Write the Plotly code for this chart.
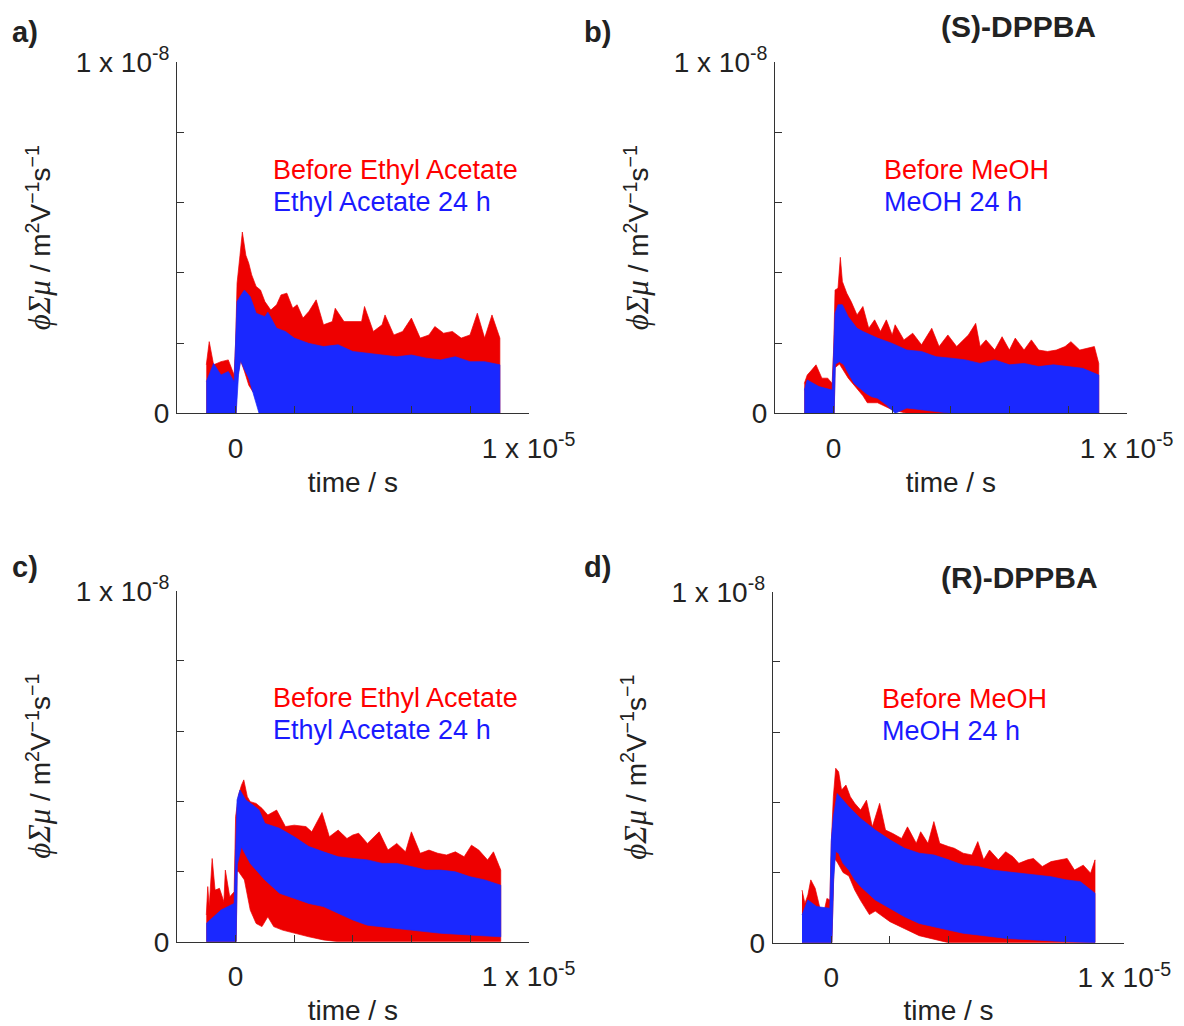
import plotly.graph_objects as go

# ---------------- data (time in microseconds, signal in 1e-9 m^2 V^-1 s^-1) ----------------
# Panel a: (S)-DPPBA, Ethyl Acetate
A_RED_UP_T = [-1.0, -0.9, -0.75, -0.5, -0.25, -0.05, 0.0, 0.05, 0.15, 0.23, 0.35, 0.45, 0.55, 0.7, 0.85,
              1.0, 1.2, 1.4, 1.55, 1.75, 1.95, 2.1, 2.3, 2.5, 2.75, 3.0, 3.3, 3.4, 3.7, 4.0, 4.3, 4.4, 4.7,
              5.0, 5.1, 5.4, 5.7, 6.0, 6.3, 6.6, 6.8, 7.1, 7.4, 7.7, 8.0, 8.25, 8.5, 8.75, 9.02]
A_RED_UP = [1.38, 2.04, 1.38, 1.47, 1.52, 1.09, 2.0, 3.7, 4.5, 5.16, 4.5, 4.27, 3.94, 3.61, 3.51,
            3.18, 2.94, 3.09, 3.37, 3.42, 2.99, 3.09, 2.71, 2.9, 3.23, 2.52, 2.61, 2.99, 2.61, 2.61, 2.61, 3.04, 2.33,
            2.52, 2.8, 2.23, 2.33, 2.71, 2.14, 2.23, 2.47, 2.28, 2.33, 2.14, 2.23, 2.85, 2.14, 2.8, 2.14]
A_RED_LO_T = [-1.0, 0.02, 0.04, 0.17, 0.3, 0.45, 0.6, 0.8, 1.0, 1.2, 9.02]
A_RED_LO = [0.0, 0.0, 0.9, 1.5, 1.2, 0.8, 0.6, 0.5, 0.3, 0.0, 0.0]
A_BLUE_UP_T = [-1.0, -0.75, -0.5, -0.25, -0.05, 0.0, 0.05, 0.15, 0.3, 0.5, 0.7, 1.0, 1.1, 1.4, 1.7, 2.0,
               2.5, 3.0, 3.5, 4.0, 4.5, 5.0, 5.5, 6.0, 6.5, 7.0, 7.5, 8.0, 8.5, 9.02]
A_BLUE_UP = [0.9, 1.42, 1.09, 1.19, 0.9, 1.95, 3.18, 3.32, 3.51, 3.32, 2.85, 2.75, 2.88, 2.42, 2.33, 2.14,
             1.99, 1.9, 1.95, 1.76, 1.71, 1.66, 1.61, 1.66, 1.57, 1.52, 1.61, 1.47, 1.47, 1.38]
A_BLUE_LO_T = [-1.0, 0.02, 0.03, 0.1, 0.17, 0.3, 0.45, 0.6, 0.8, 9.02]
A_BLUE_LO = [0.0, 0.0, 0.3, 1.1, 1.5, 1.25, 1.0, 0.6, 0.0, 0.0]

# Panel b: (S)-DPPBA, MeOH
B_RED_UP_T = [-1.0, -0.9, -0.75, -0.6, -0.4, -0.2, -0.05, 0.0, 0.05, 0.15, 0.23, 0.3, 0.45, 0.6, 0.8,
              1.0, 1.2, 1.4, 1.6, 1.8, 2.0, 2.1, 2.4, 2.7, 3.0, 3.35, 3.6, 3.9, 4.2, 4.6, 4.85, 5.0, 5.2,
              5.5, 5.75, 6.0, 6.2, 6.5, 6.75, 7.0, 7.3, 7.6, 7.9, 8.1, 8.4, 8.7, 8.9, 9.05]
B_RED_UP = [0.85, 1.09, 1.23, 1.38, 1.0, 1.0, 0.85, 1.8, 3.51, 3.56, 4.44, 3.75, 3.42, 3.18, 2.8,
            3.04, 2.42, 2.66, 2.33, 2.66, 2.23, 2.52, 2.09, 2.28, 1.95, 2.42, 1.9, 2.23, 1.9, 2.23, 2.56, 1.9, 2.09,
            1.8, 2.18, 1.8, 2.14, 1.8, 2.09, 1.8, 1.76, 1.8, 1.9, 2.04, 1.8, 1.85, 1.9, 1.42]
B_RED_LO_T = [-1.0, 0.02, 0.05, 0.2, 0.5, 1.0, 1.15, 1.5, 2.0, 2.5, 9.05]
B_RED_LO = [0.0, 0.0, 1.3, 1.4, 1.0, 0.5, 0.3, 0.3, 0.1, 0.0, 0.0]
B_BLUE_UP_T = [-1.0, -0.9, -0.5, -0.05, 0.0, 0.05, 0.15, 0.3, 0.5, 0.8, 1.0, 1.5, 2.0, 2.5, 3.0, 3.5,
               4.0, 4.5, 5.0, 5.5, 6.0, 6.5, 7.0, 7.5, 8.0, 8.5, 9.05]
B_BLUE_UP = [0.66, 0.95, 0.76, 0.66, 1.71, 2.85, 3.09, 3.09, 2.75, 2.42, 2.33, 2.14, 1.99, 1.8, 1.76, 1.61,
             1.57, 1.52, 1.42, 1.52, 1.38, 1.42, 1.33, 1.38, 1.33, 1.28, 1.09]
B_BLUE_LO_T = [-1.0, 0.02, 0.06, 0.2, 0.35, 0.5, 0.7, 0.9, 1.1, 1.3, 1.5, 1.8, 2.1, 2.5, 3.0, 4.0, 9.05]
B_BLUE_LO = [0.0, 0.0, 1.4, 1.47, 1.38, 1.14, 0.85, 0.71, 0.57, 0.47, 0.43, 0.24, 0.0, 0.15, 0.1, 0.0, 0.0]

# Panel c: (R)-DPPBA, Ethyl Acetate
C_RED_UP_T = [-1.0, -0.95, -0.9, -0.8, -0.7, -0.55, -0.4, -0.35, -0.2, -0.05, 0.0, 0.1, 0.2, 0.28, 0.4,
              0.5, 0.7, 0.9, 1.1, 1.4, 1.7, 2.0, 2.4, 2.6, 2.95, 3.2, 3.5, 3.8, 4.0, 4.2, 4.5, 4.9, 5.2,
              5.5, 5.8, 6.0, 6.3, 6.6, 6.9, 7.2, 7.5, 7.8, 8.05, 8.3, 8.6, 8.8, 9.05]
C_RED_UP = [0.76, 1.57, 1.0, 2.37, 1.47, 1.52, 1.14, 2.04, 1.28, 1.42, 3.56, 4.18, 4.46, 4.61, 4.13,
            3.99, 3.94, 3.8, 3.61, 3.75, 3.28, 3.32, 3.28, 3.13, 3.68, 2.99, 3.18, 2.94, 3.04, 3.09, 2.8, 3.13, 2.61,
            2.8, 2.56, 3.13, 2.52, 2.61, 2.52, 2.47, 2.56, 2.42, 2.75, 2.61, 2.33, 2.56, 2.04]
C_RED_LO_T = [-1.0, 0.02, 0.05, 0.1, 0.3, 0.5, 0.7, 0.9, 1.1, 1.3, 1.6, 2.0, 2.5, 3.0, 3.5, 9.05]
C_RED_LO = [0.0, 0.0, 2.0, 2.0, 1.76, 0.9, 0.52, 0.43, 0.71, 0.43, 0.33, 0.24, 0.14, 0.05, 0.0, 0.0]
C_BLUE_UP_T = [-1.0, -0.5, -0.05, 0.0, 0.05, 0.15, 0.35, 0.6, 0.8, 1.0, 1.5, 2.0, 2.5, 3.0, 3.5, 4.0,
               4.5, 5.0, 5.5, 6.0, 6.5, 7.0, 7.5, 8.0, 8.5, 9.05]
C_BLUE_UP = [0.52, 0.9, 1.09, 2.9, 4.04, 4.32, 4.04, 3.89, 3.75, 3.37, 3.23, 2.99, 2.71, 2.56, 2.42, 2.37,
             2.33, 2.23, 2.23, 2.14, 2.04, 2.04, 1.99, 1.85, 1.76, 1.61]
C_BLUE_LO_T = [-1.0, 0.02, 0.06, 0.2, 0.5, 1.0, 1.5, 2.0, 2.5, 3.0, 3.5, 4.0, 4.5, 5.0, 6.0, 7.0, 8.0, 9.05]
C_BLUE_LO = [0.0, 0.0, 2.2, 2.7, 2.23, 1.76, 1.38, 1.23, 1.09, 1.0, 0.81, 0.62, 0.47, 0.43, 0.33, 0.24, 0.19, 0.14]

# Panel d: (R)-DPPBA, MeOH
D_RED_UP_T = [-1.0, -0.9, -0.8, -0.7, -0.55, -0.4, -0.25, -0.15, -0.05, 0.0, 0.07, 0.15, 0.25, 0.35, 0.5,
              0.65, 0.8, 1.0, 1.2, 1.4, 1.65, 1.85, 2.1, 2.4, 2.6, 2.9, 3.05, 3.3, 3.5, 3.7, 4.0, 4.2, 4.5,
              4.8, 5.0, 5.2, 5.4, 5.7, 5.95, 6.2, 6.4, 6.7, 6.9, 7.2, 7.5, 7.8, 8.05, 8.3, 8.6, 8.85, 9.0]
D_RED_UP = [1.5, 1.12, 1.36, 1.79, 1.55, 1.03, 0.88, 1.26, 1.22, 2.83, 4.16, 4.97, 4.87, 4.35, 4.49,
            4.16, 3.97, 3.78, 4.06, 3.3, 3.97, 3.21, 3.11, 2.97, 3.3, 2.83, 3.16, 2.83, 3.45, 2.83, 2.74, 2.69, 2.55,
            2.5, 2.88, 2.36, 2.64, 2.36, 2.59, 2.45, 2.26, 2.36, 2.4, 2.17, 2.31, 2.36, 2.4, 2.07, 2.21, 1.98, 2.36]
D_RED_LO_T = [-1.0, 0.02, 0.1, 0.2, 0.4, 0.6, 0.8, 1.0, 1.3, 1.5, 2.0, 2.5, 3.0, 3.5, 4.0, 9.0]
D_RED_LO = [0.0, 0.0, 2.4, 2.3, 2.0, 1.9, 1.5, 1.2, 0.8, 0.9, 0.6, 0.4, 0.2, 0.1, 0.0, 0.0]
D_BLUE_UP_T = [-1.0, -0.8, -0.5, -0.05, 0.0, 0.07, 0.2, 0.35, 0.6, 1.0, 1.5, 2.0, 2.5, 3.0, 3.5, 4.0,
               4.5, 5.0, 5.5, 6.0, 6.5, 7.0, 7.5, 8.0, 8.5, 9.0]
D_BLUE_UP = [0.79, 1.22, 1.03, 0.98, 2.93, 3.59, 4.25, 4.11, 3.87, 3.54, 3.21, 2.93, 2.69, 2.55, 2.5, 2.36,
             2.21, 2.17, 2.07, 2.02, 1.98, 1.93, 1.88, 1.79, 1.74, 1.41]
D_BLUE_LO_T = [-1.0, 0.02, 0.08, 0.15, 0.25, 0.4, 0.6, 0.8, 1.0, 1.5, 2.0, 2.5, 3.0, 3.5, 4.0, 4.5, 5.0,
               6.0, 7.0, 8.0, 9.0]
D_BLUE_LO = [0.0, 0.0, 1.8, 2.6, 2.55, 2.26, 2.07, 1.79, 1.6, 1.22, 0.98, 0.74, 0.55, 0.46, 0.36, 0.27, 0.22,
             0.12, 0.08, 0.03, 0.0]

PANELS = [
    dict(name="a", red=(A_RED_UP_T, A_RED_UP, A_RED_LO_T, A_RED_LO),
         blue=(A_BLUE_UP_T, A_BLUE_UP, A_BLUE_LO_T, A_BLUE_LO),
         labels=("Before Ethyl Acetate", "Ethyl Acetate 24 h")),
    dict(name="b", red=(B_RED_UP_T, B_RED_UP, B_RED_LO_T, B_RED_LO),
         blue=(B_BLUE_UP_T, B_BLUE_UP, B_BLUE_LO_T, B_BLUE_LO),
         labels=("Before MeOH", "MeOH 24 h")),
    dict(name="c", red=(C_RED_UP_T, C_RED_UP, C_RED_LO_T, C_RED_LO),
         blue=(C_BLUE_UP_T, C_BLUE_UP, C_BLUE_LO_T, C_BLUE_LO),
         labels=("Before Ethyl Acetate", "Ethyl Acetate 24 h")),
    dict(name="d", red=(D_RED_UP_T, D_RED_UP, D_RED_LO_T, D_RED_LO),
         blue=(D_BLUE_UP_T, D_BLUE_UP, D_BLUE_LO_T, D_BLUE_LO),
         labels=("Before MeOH", "MeOH 24 h")),
]

X_TICKS = [0, 1e-5]
X_TICKTEXT = ["0", "1 x 10<sup>-5</sup>"]
X_MINOR = [2e-6, 4e-6, 6e-6, 8e-6]
Y_TICKS = [0, 1e-8]
Y_TICKTEXT = ["0", "1 x 10<sup>-8</sup>"]
Y_MINOR = [2e-9, 4e-9, 6e-9, 8e-9]

RED = "#ee0000"
BLUE = "#1a28ff"
W, H = 1184, 1026
FONT = "Liberation Sans, Arial, sans-serif"
AXC = "#333333"
TXT = "#222222"

# pixel geometry of plot areas (left, top, right, bottom)
BOXES = [(177, 62, 528.6, 413.3), (775, 62, 1126.6, 413.3),
         (177, 590.7, 528.6, 941.7), (772.7, 591.7, 1124.3, 942.7)]

fig = go.Figure()


def polygon(ut, uv, lt, lv):
    xs = [t * 1e-6 for t in ut] + [t * 1e-6 for t in lt[::-1]]
    ys = [v * 1e-9 for v in uv] + [v * 1e-9 for v in lv[::-1]]
    return xs, ys


YTITLE = ("<span style='font-family:Liberation Serif;font-size:31px'><i>ϕΣμ</i></span>"
          " / m<sup>2</sup>V<sup>−1</sup>s<sup>−1</sup>")

for i, p in enumerate(PANELS):
    ax = "" if i == 0 else str(i + 1)
    for key, col, lab in (("red", RED, p["labels"][0]), ("blue", BLUE, p["labels"][1])):
        xs, ys = polygon(*p[key])
        fig.add_trace(go.Scatter(x=xs, y=ys, mode="lines", fill="toself", fillcolor=col,
                                 line=dict(color=col, width=0.7), name=lab, showlegend=False,
                                 xaxis="x" + ax, yaxis="y" + ax, hoverinfo="skip"))
    l, t, r, b = BOXES[i]
    xd = [l / W, r / W]
    yd = [1 - b / H, 1 - t / H]
    common = dict(showline=True, linecolor=AXC, linewidth=1, ticks="inside", ticklen=7,
                  tickcolor=AXC, tickwidth=1, showgrid=False, zeroline=False, automargin=False,
                  tickfont=dict(family=FONT, size=28, color=TXT))
    minor_common = dict(ticks="inside", ticklen=7, tickcolor=AXC, tickwidth=1, showgrid=False)
    fig.update_layout(**{
        "xaxis" + ax: dict(domain=xd, range=[-2e-6, 1e-5], tickvals=X_TICKS, ticktext=X_TICKTEXT,
                           minor=dict(tickvals=X_MINOR, **minor_common),
                           anchor="y" + ax, ticklabelstandoff=10,
                           title=dict(text="time / s", font=dict(family=FONT, size=28, color=TXT),
                                      standoff=9),
                           **common),
        "yaxis" + ax: dict(domain=yd, range=[0, 1e-8], tickvals=Y_TICKS, ticktext=Y_TICKTEXT,
                           minor=dict(tickvals=Y_MINOR, **minor_common),
                           anchor="x" + ax, ticklabelstandoff=1,
                           title=dict(text=YTITLE, font=dict(family=FONT, size=28, color=TXT),
                                      standoff=16),
                           **common),
    })
    # legend-like labels
    lx = 1.2e-6 if p["name"] in ("a", "c") else 1.65e-6
    fig.add_annotation(x=lx, y=6.93e-9, xref="x" + ax, yref="y" + ax, text=p["labels"][0],
                       showarrow=False, xanchor="left", yanchor="middle",
                       font=dict(family=FONT, size=27, color="#ff0000"))
    fig.add_annotation(x=lx, y=6.02e-9, xref="x" + ax, yref="y" + ax, text=p["labels"][1],
                       showarrow=False, xanchor="left", yanchor="middle",
                       font=dict(family=FONT, size=27, color="#1a1aff"))

# panel letters and titles
for txt, px, py in (("a)", 10, 32), ("b)", 582, 32), ("c)", 10, 567), ("d)", 582, 567)):
    fig.add_annotation(x=px / W, y=1 - py / H, xref="paper", yref="paper", text=f"<b>{txt}</b>",
                       showarrow=False, xanchor="left", yanchor="middle",
                       font=dict(family=FONT, size=29, color=TXT))
for txt, px, py in (("(S)-DPPBA", 1018, 27), ("(R)-DPPBA", 1019, 577)):
    fig.add_annotation(x=px / W, y=1 - py / H, xref="paper", yref="paper", text=f"<b>{txt}</b>",
                       showarrow=False, xanchor="center", yanchor="middle",
                       font=dict(family=FONT, size=30, color=TXT))

fig.update_layout(width=W, height=H, autosize=False, margin=dict(l=0, r=0, t=0, b=0, autoexpand=False),
                  paper_bgcolor="white", plot_bgcolor="white", showlegend=False)
fig.write_html("out.html", config={"displayModeBar": False},
               post_script="document.body.style.margin='0';document.body.style.overflow='hidden';")
